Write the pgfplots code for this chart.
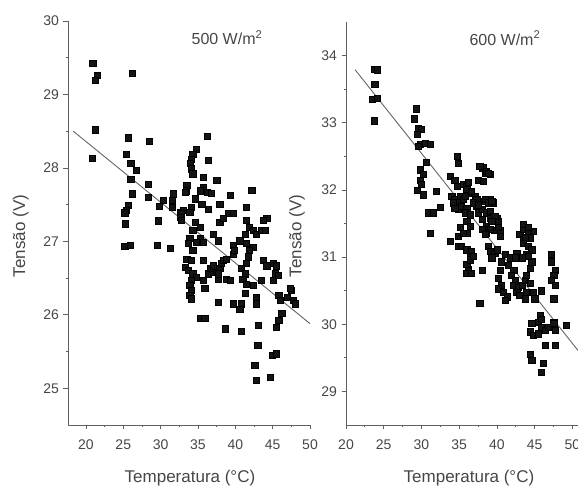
\documentclass[border=0pt]{standalone}
\usepackage{pgfplots}
\usepackage{pgfplotstable}
\pgfplotsset{compat=1.18}
\usepackage{fontspec}
\setmainfont{Liberation Sans}
\definecolor{txt}{RGB}{70,70,70}
\definecolor{axc}{RGB}{95,95,95}
\definecolor{fitc}{RGB}{100,100,100}

% panel a: 500 W/m2
\pgfplotstableread{
x y
20.9 29.43
21.5 29.26
21.2 29.19
26.2 29.29
21.2 28.52
20.8 28.13
25.7 28.41
28.5 28.36
25.4 28.19
26.0 28.06
26.7 27.97
26.0 27.85
28.3 27.78
26.2 27.65
28.3 27.60
25.7 27.49
25.4 27.42
25.2 27.39
25.3 27.24
29.8 27.48
29.7 27.28
30.3 27.56
31.7 27.65
31.6 27.56
31.5 27.47
32.6 27.40
33.0 27.42
33.5 27.76
33.4 27.69
25.2 26.93
25.9 26.95
29.5 26.95
31.3 26.91
36.2 28.43
34.8 28.26
34.3 28.19
34.1 28.12
34.0 28.06
34.1 27.99
34.3 27.92
36.4 28.10
35.7 27.87
37.5 27.83
35.7 27.74
36.2 27.67
36.8 27.66
35.3 27.69
33.3 27.67
39.3 27.63
42.2 27.70
34.6 27.58
35.5 27.51
36.4 27.44
37.9 27.51
32.8 27.38
34.1 27.47
33.9 27.40
41.5 27.47
44.2 27.31
43.7 27.29
39.0 27.38
39.7 27.38
37.9 27.26
38.4 27.31
41.5 27.29
41.9 27.19
42.4 27.15
42.8 27.10
43.5 27.15
44.0 27.15
32.6 27.33
32.8 27.29
34.6 27.26
35.3 27.19
34.3 27.15
37.0 27.10
37.7 27.01
35.3 27.04
35.7 26.99
33.9 27.04
33.7 26.97
41.3 27.10
40.6 27.01
41.5 26.97
42.4 26.92
39.7 26.95
34.8 26.99
34.3 26.88
33.5 26.76
34.1 26.74
35.7 26.74
33.3 26.65
33.7 26.61
34.3 26.56
34.8 26.51
34.1 26.47
33.9 26.40
34.1 26.33
33.9 26.27
34.1 26.22
35.7 26.47
35.9 26.36
36.4 26.56
37.0 26.58
37.5 26.61
37.9 26.63
38.1 26.70
38.4 26.74
38.8 26.76
36.6 26.63
37.0 26.67
37.7 26.49
38.8 26.49
39.3 26.47
37.7 26.56
39.7 26.83
39.9 26.88
41.9 26.88
41.7 26.79
41.5 26.70
40.8 26.63
41.3 26.56
41.0 26.49
41.5 26.42
41.3 26.29
42.4 26.40
42.8 26.24
42.8 26.15
43.7 26.74
44.2 26.67
43.5 26.47
45.1 26.70
45.5 26.67
45.3 26.56
45.1 26.47
45.8 26.27
46.0 26.20
46.2 26.02
47.5 26.33
47.8 26.20
45.8 25.93
45.5 25.83
40.8 26.15
40.6 26.08
39.7 26.15
37.7 26.17
35.3 25.95
35.9 25.95
38.6 25.81
40.8 25.78
43.1 25.86
43.0 25.59
42.6 25.31
42.8 25.11
44.9 25.45
45.5 25.47
44.7 25.15
47.4 26.36
48.0 26.15
46.9 26.24
45.7 26.54
}\dataA

% panel b: 600 W/m2
\pgfplotstableread{
x y
23.8 33.80
24.1 33.79
23.8 33.57
23.5 33.35
24.1 33.37
23.7 33.03
29.3 33.21
29.0 33.06
29.6 32.92
30.0 32.90
29.4 32.83
29.8 32.68
30.5 32.70
31.1 32.68
29.6 32.65
30.6 32.41
29.8 32.30
30.2 32.23
29.8 32.15
30.0 32.08
29.4 32.00
30.2 31.93
32.0 31.98
30.9 31.66
31.5 31.66
32.5 31.74
31.2 31.36
33.8 32.21
34.7 32.50
34.9 32.40
34.4 32.15
34.7 32.05
34.0 31.91
34.4 31.86
34.9 31.81
34.9 31.71
33.8 31.24
34.9 31.31
34.9 31.16
35.5 32.08
36.0 32.05
36.2 31.96
38.1 32.33
38.4 32.25
38.6 32.28
39.1 32.23
37.5 32.15
38.2 32.13
37.1 31.91
37.3 31.86
38.2 31.83
39.1 31.86
39.5 31.81
35.1 31.91
35.5 31.86
35.3 31.76
36.0 31.73
35.8 31.66
36.4 31.63
34.2 31.81
34.4 31.73
37.3 31.76
37.5 31.66
38.0 31.71
38.6 31.66
39.1 31.58
40.0 31.58
40.2 31.53
39.7 31.40
40.4 31.40
36.0 31.53
36.4 31.46
36.0 31.36
38.0 31.56
38.6 31.46
39.1 31.41
38.6 31.36
43.0 31.34
43.5 31.41
44.1 31.36
44.8 31.39
43.5 31.26
44.4 31.29
37.7 32.35
38.8 32.25
36.2 32.11
36.0 32.01
36.6 31.98
35.8 31.91
36.9 31.81
37.5 31.78
38.4 31.86
38.8 31.81
39.3 31.83
39.1 31.68
39.7 31.61
39.3 31.53
40.2 31.44
40.4 31.31
38.0 31.41
38.4 31.34
35.1 31.44
35.5 31.36
35.3 31.16
36.0 31.11
36.6 31.09
36.4 31.01
38.8 31.16
39.1 31.09
39.7 31.06
39.3 30.99
41.1 31.04
41.7 30.99
43.5 31.49
44.1 31.44
43.7 31.29
43.5 31.21
44.1 31.16
44.6 31.11
43.9 31.04
42.6 31.06
47.2 31.04
36.2 30.82
36.0 30.89
36.4 30.96
36.9 31.01
38.0 30.80
37.7 30.31
40.2 30.68
40.6 30.58
40.2 30.53
40.8 30.48
41.3 30.41
41.1 30.36
41.5 30.88
42.2 30.80
41.9 30.73
42.4 30.65
42.2 30.58
42.8 30.55
42.6 30.48
43.0 30.43
43.7 30.38
43.9 30.48
43.3 30.58
43.7 30.65
44.4 30.61
43.9 30.73
44.4 30.83
44.6 30.93
44.1 31.01
43.3 30.99
42.4 30.99
44.8 30.48
45.0 30.38
45.9 30.50
47.5 30.38
47.2 30.93
47.7 30.80
47.5 30.73
47.2 30.65
47.7 30.58
45.5 30.03
45.9 29.96
46.4 29.91
46.8 29.96
47.5 30.03
47.7 29.91
49.2 29.99
44.4 29.89
44.8 29.84
45.5 29.86
44.6 30.01
46.4 29.69
47.7 29.69
44.4 29.56
44.6 29.46
46.1 29.42
45.9 29.29
45.7 30.13
45.9 30.08
47.5 30.01
36.0 30.76
36.6 30.76
40.0 31.11
40.6 30.93
40.4 30.80
}\dataB

\pgfplotsset{
  panel/.style={
    scale only axis,
    clip=false,
    axis x line*=bottom,
    axis y line*=left,
    axis line style={axc, line width=0.9pt},
    tick align=outside,
    major tick length=4.5pt,
    minor tick length=2.5pt,
    every tick/.style={axc, line width=0.8pt},
    minor x tick num=1,
    minor y tick num=1,
    xtick={20,25,...,50},
    /pgf/number format/assume math mode=true,
    tick label style={font=\fontsize{14}{16}\selectfont, text=txt},
    xticklabel style={yshift=-7pt},
    yticklabel style={xshift=-1pt},
    label style={font=\fontsize{17}{20}\selectfont, text=txt},
    xlabel={Temperatura (°C)},
    ylabel={Tensão (V)},
  },
  pts/.style={only marks, mark=square*, mark size=3.1pt,
    mark options={draw=none, fill=black!92}},
  fit/.style={fitc, line width=0.9pt, no marks},
}

\begin{document}
\begin{tikzpicture}
\path[use as bounding box] (-68pt,-64pt) rectangle (510pt,425pt);

\begin{axis}[panel,
    at={(0pt,0pt)}, anchor=south west,
    width=242pt, height=404pt,
    xmin=17.6, xmax=50, ymin=24.5, ymax=30,
    ytick={25,26,...,30},
    xlabel style={at={(axis description cs:0.504,-0.131)}, anchor=center},
    ylabel style={at={(axis description cs:-0.195,0.468)}, anchor=center},
]
\addplot[pts] table[x=x, y=y] {\dataA};
\addplot[fit] coordinates {(18.3,28.50) (50,25.88)};
\node[font=\fontsize{16}{18}\selectfont, text=txt] at (axis description cs:0.657,0.958) {500 W/m\textsuperscript{2}};
\end{axis}

\begin{axis}[panel,
    at={(278pt,0pt)}, anchor=south west,
    width=232pt, height=403pt,
    xmin=20, xmax=50.73, ymin=28.5, ymax=34.5,
    ytick={29,30,...,34},
    xlabel style={at={(axis description cs:0.530,-0.1315)}, anchor=center},
    ylabel style={at={(axis description cs:-0.211,0.469)}, anchor=center},
]
\addplot[pts] table[x=x, y=y] {\dataB};
\addplot[fit] coordinates {(21.2,33.79) (50.73,29.61)};
\node[font=\fontsize{16}{18}\selectfont, text=txt] at (axis description cs:0.685,0.960) {600 W/m\textsuperscript{2}};
\end{axis}
\end{tikzpicture}
\end{document}
